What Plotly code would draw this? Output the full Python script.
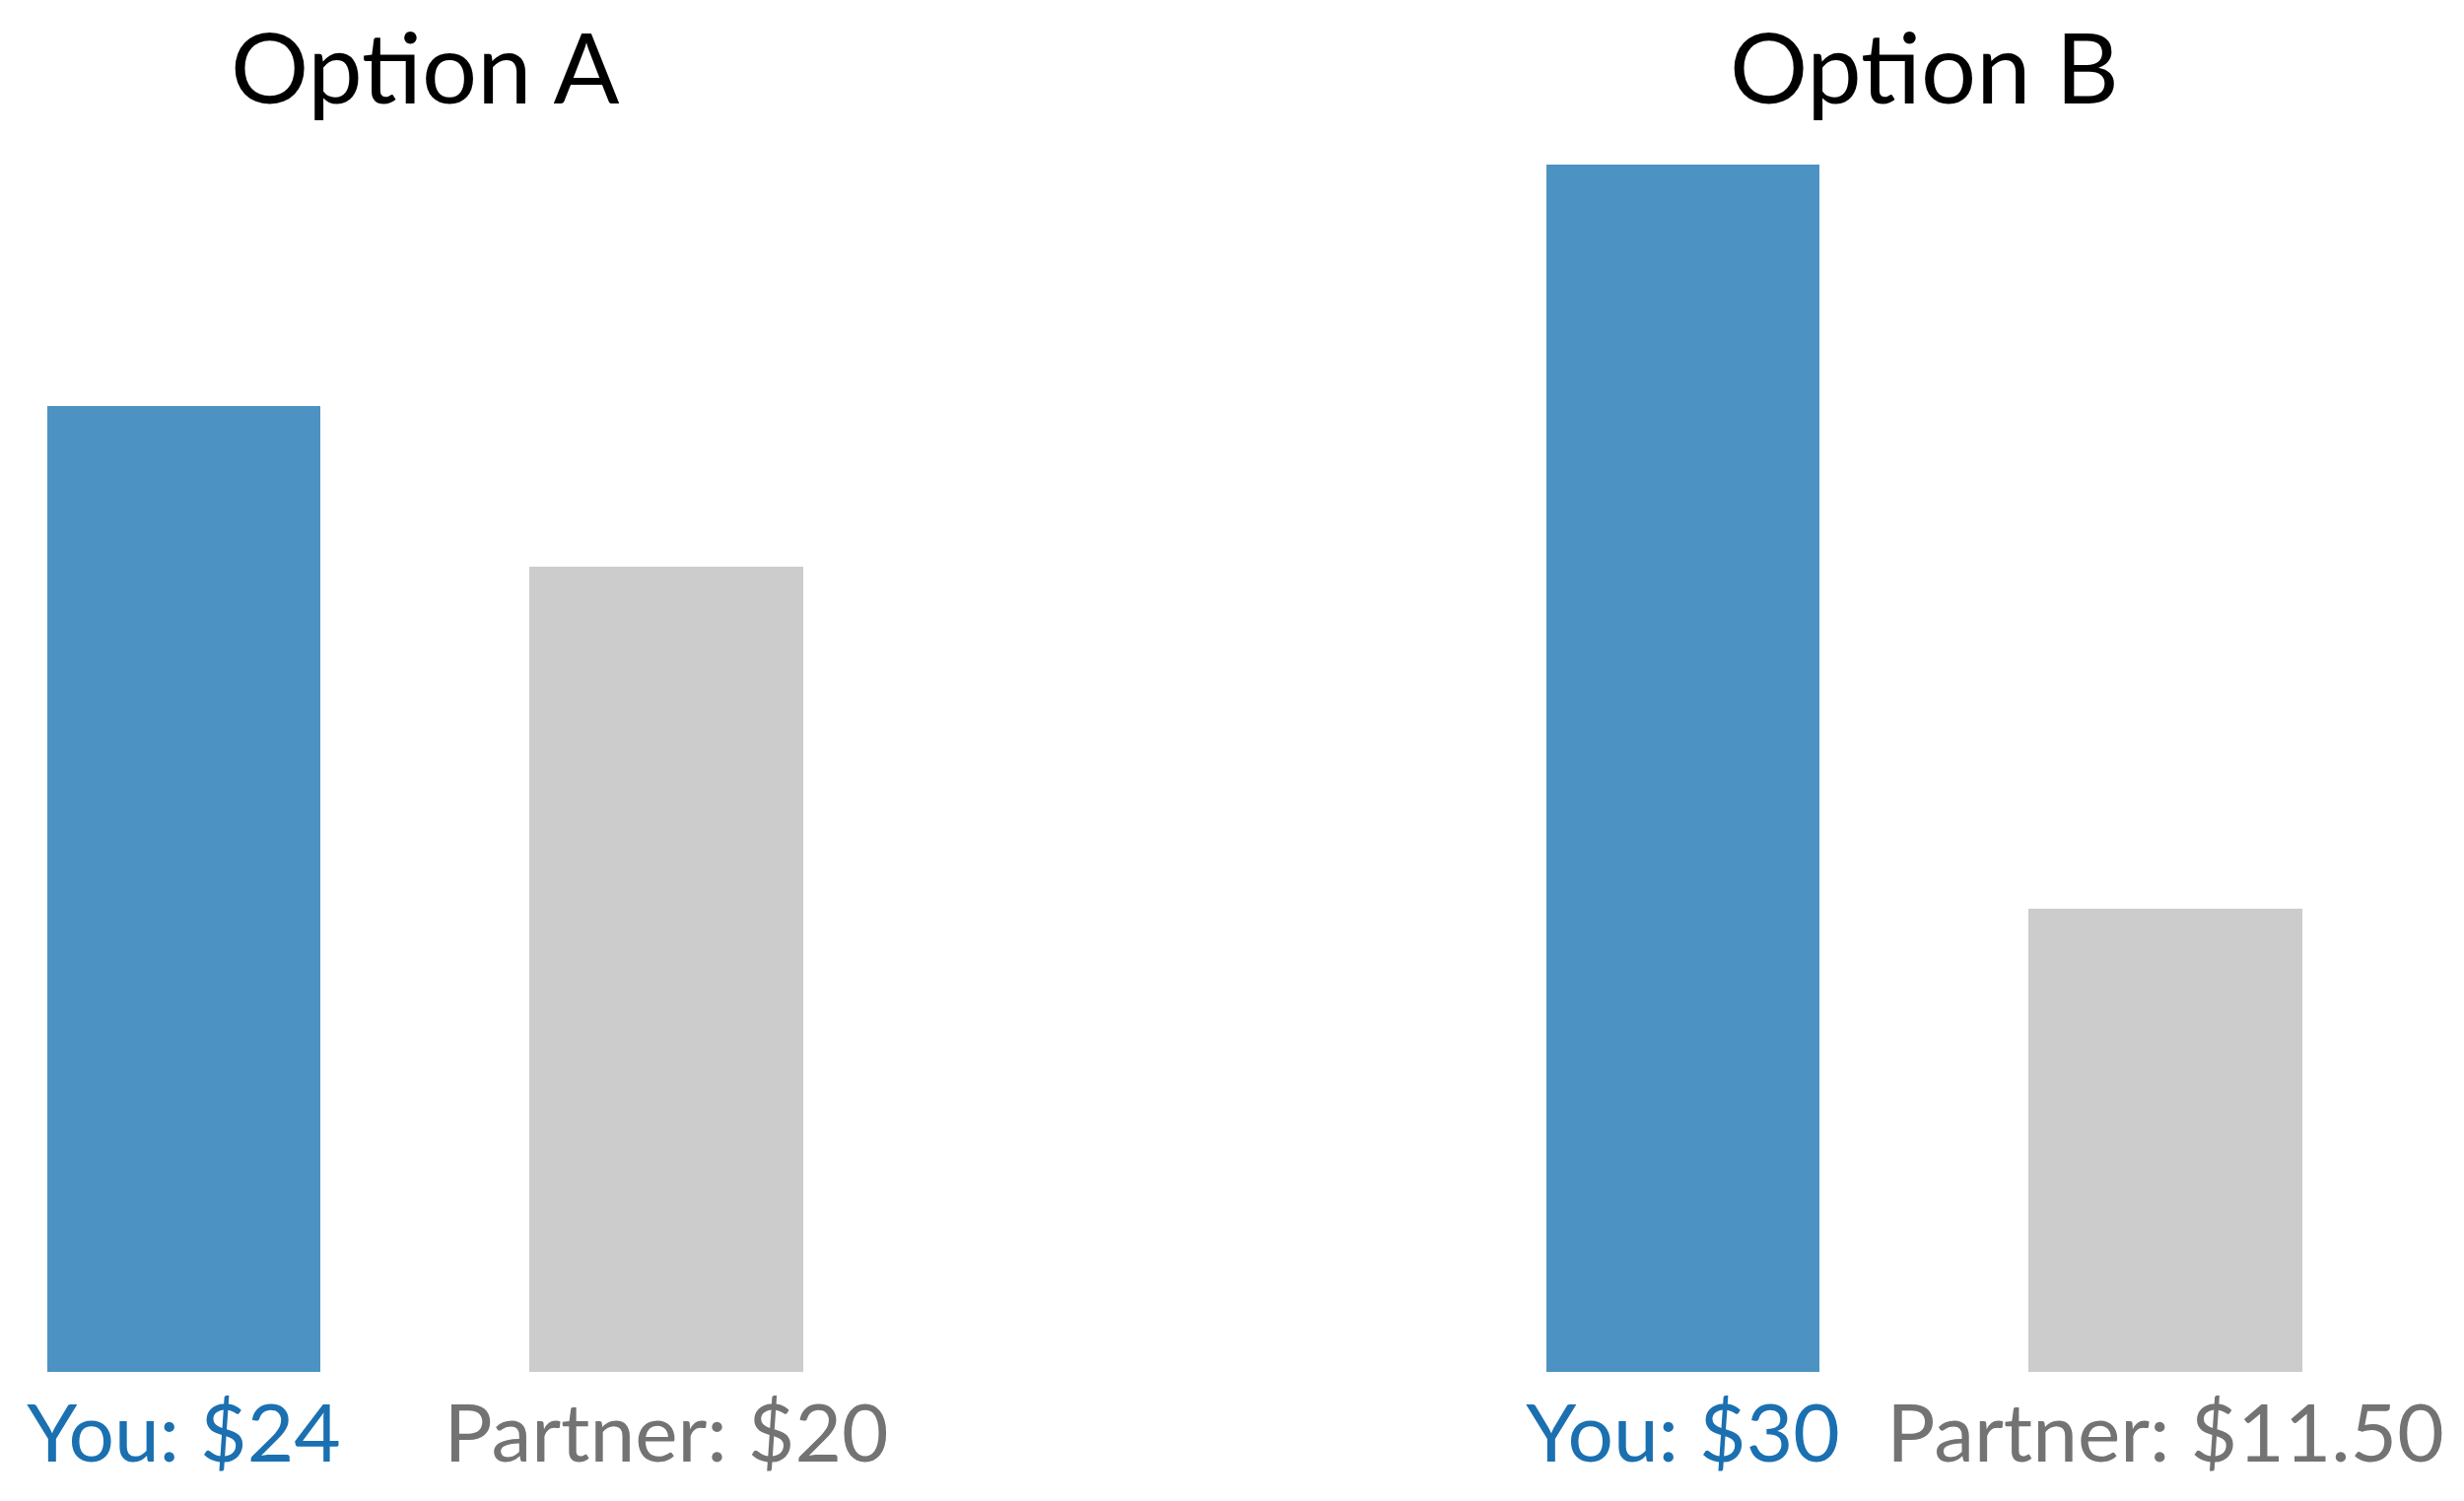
import plotly.graph_objects as go

# Data
options = ["Option A", "Option B"]
recipients = ["You", "Partner"]
values_a = [24, 20]
values_b = [30, 11.5]
labels_a = ["You: $24", "Partner: $20"]
labels_b = ["You: $30", "Partner: $11.50"]

bar_colors = ["#4C92C2", "#CCCCCC"]
label_colors = ["#1A70B0", "#737373"]
FONT = "Lato, 'Liberation Sans', sans-serif"

W, H = 2500, 1523
OFF = 8  # page body margin offset
fig = go.Figure()

def colored(labels):
    return [f"<span style='color:{c}'>{t}</span>" for t, c in zip(labels, label_colors)]

for i, (vals, labs) in enumerate([(values_a, labels_a), (values_b, labels_b)]):
    xa = "x" if i == 0 else "x2"
    ya = "y" if i == 0 else "y2"
    fig.add_trace(go.Bar(
        x=[0, 1], y=vals, xaxis=xa, yaxis=ya,
        marker=dict(color=bar_colors, line=dict(width=0)),
        width=0.566, showlegend=False, hoverinfo="skip",
    ))

zero_px = 1392 - OFF
y_bottom = (H - zero_px) / H
y_max = zero_px / 40.83
xr = [-0.381, 1.381]

common_x = dict(type="linear", range=xr, showgrid=False, zeroline=False, showline=False,
                tickmode="array", tickvals=[0, 1], ticks="", automargin=False,
                ticklabelstandoff=8,
                tickfont=dict(family=FONT, size=82, color="#737373"), fixedrange=True)
common_y = dict(range=[0, y_max], domain=[y_bottom, 1], visible=False, fixedrange=True,
                automargin=False)

def dom(a, b):
    return [(a - OFF) / W, (b - OFF) / W]

fig.update_layout(
    width=W, height=H,
    margin=dict(l=0, r=0, t=0, b=0, autoexpand=False),
    paper_bgcolor="white", plot_bgcolor="white",
    xaxis=dict(domain=dom(8, 862.5), ticktext=colored(labels_a), anchor="y", **common_x),
    xaxis2=dict(domain=dom(1521, 2383.5), ticktext=colored(labels_b), anchor="y2", **common_x),
    yaxis=dict(anchor="x", **common_y),
    yaxis2=dict(anchor="x2", **common_y),
    bargap=0,
    font=dict(family=FONT),
)
# fix axis 1 range to account for shifted left edge
fig.update_layout(xaxis_range=[-0.381 + 8 / 489.5, 1.381])

title_x = [431, 1952]
for t, x in zip(options, title_x):
    fig.add_annotation(text=t, x=(x - OFF) / W, y=1 - (66 - OFF) / H, xref="paper", yref="paper",
                       xanchor="center", yanchor="middle", showarrow=False,
                       font=dict(family=FONT, size=99, color="black"))

fig.write_html("out.html")
